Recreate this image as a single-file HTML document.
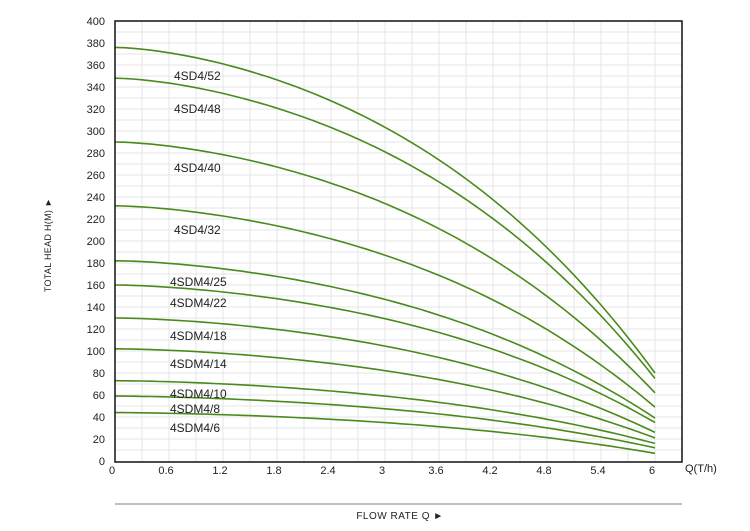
<!DOCTYPE html>
<html><head><style>
body{margin:0;background:#fff;}
svg text{font-family:"Liberation Sans",sans-serif;fill:#222;}
</style></head><body>
<svg id="s" width="750" height="526" viewBox="0 0 750 526" xmlns="http://www.w3.org/2000/svg">
<g id="grid" stroke="#e6e6e6" stroke-width="1"></g>
<g id="curves" fill="none" stroke="#4a8a1c" stroke-width="1.6"></g>
<rect x="115" y="21" width="567" height="441" fill="none" stroke="#111" stroke-width="1.5"/>
<g id="yl" font-size="11" text-anchor="end"></g>
<g id="xl" font-size="11" text-anchor="middle"></g>
<g font-size="12">
<text x="174" y="80">4SD4/52</text>
<text x="174" y="113">4SD4/48</text>
<text x="174" y="172">4SD4/40</text>
<text x="174" y="234">4SD4/32</text>
<text x="170" y="286">4SDM4/25</text>
<text x="170" y="307">4SDM4/22</text>
<text x="170" y="340">4SDM4/18</text>
<text x="170" y="368">4SDM4/14</text>
<text x="170" y="398">4SDM4/10</text>
<text x="170" y="413">4SDM4/8</text>
<text x="170" y="432">4SDM4/6</text>
</g>
<text x="685" y="472" font-size="11">Q(T/h)</text>
<line x1="115" y1="504" x2="682" y2="504" stroke="#999" stroke-width="1.2"/>
<text x="400" y="519" font-size="10" text-anchor="middle" letter-spacing="0.5">FLOW RATE Q  ►</text>
<text transform="translate(51,245) rotate(-90)" font-size="9" text-anchor="middle" letter-spacing="0.3">TOTAL HEAD H(M) ►</text>
</svg>
<script>
var ns="http://www.w3.org/2000/svg";
function X(q){return 115+q*90;}
function Y(h){return 461-h*1.1;}
var g=document.getElementById('grid');
for(var i=1;i<21;i++){var l=document.createElementNS(ns,'line');var x=115+i*27;l.setAttribute('x1',x);l.setAttribute('x2',x);l.setAttribute('y1',21);l.setAttribute('y2',462);g.appendChild(l);}
for(var i=1;i<40;i++){var l=document.createElementNS(ns,'line');var y=461-i*11;l.setAttribute('y1',y);l.setAttribute('y2',y);l.setAttribute('x1',115);l.setAttribute('x2',682);g.appendChild(l);}
var yl=document.getElementById('yl');
for(var v=0;v<=400;v+=20){var t=document.createElementNS(ns,'text');t.setAttribute('x',105);t.setAttribute('y',Y(v)+4);t.textContent=v;yl.appendChild(t);}
var xl=document.getElementById('xl');
var xs=['0','0.6','1.2','1.8','2.4','3','3.6','4.2','4.8','5.4','6'];
for(var i=0;i<xs.length;i++){var t=document.createElementNS(ns,'text');t.setAttribute('x',X(i*0.6)-3);t.setAttribute('y',474);t.textContent=xs[i];xl.appendChild(t);}
var c=[[376,80],[348,75],[290,62],[232,49],[182,39],[160,35],[130,26],[102,21],[73,16],[59,12],[44,7]];
var cg=document.getElementById('curves');
c.forEach(function(p){var d='';for(var k=0;k<=60;k++){var q=k/10,t=q/6;var r=0.65*Math.pow(t,1.6)+0.35*Math.pow(t,3.5);var h=p[0]-(p[0]-p[1])*r;d+=(k?'L':'M')+X(q).toFixed(1)+' '+Y(h).toFixed(1);}var e=document.createElementNS(ns,'path');e.setAttribute('d',d);cg.appendChild(e);});
</script>
</body></html>
